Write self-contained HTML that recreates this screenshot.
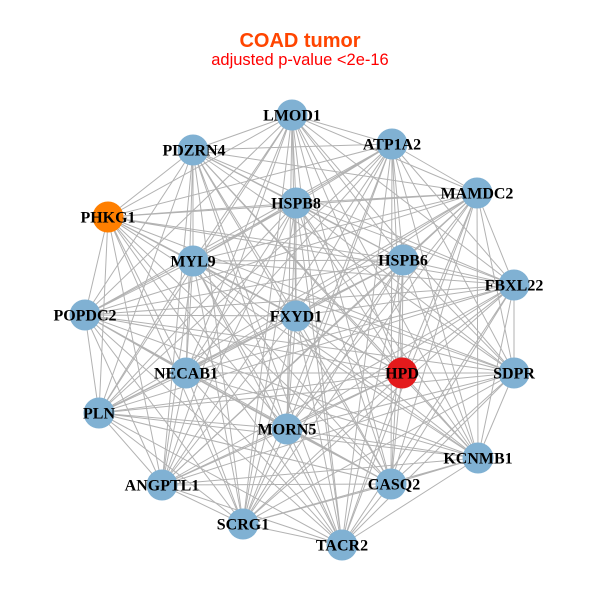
<!DOCTYPE html>
<html>
<head>
<meta charset="utf-8">
<style>
html,body{margin:0;padding:0;background:#fff;}
svg{display:block;}
.lbl{font-family:"Liberation Serif",serif;font-weight:bold;font-size:16px;fill:#000;text-anchor:middle;}
</style>
</head>
<body>
<svg width="600" height="600" viewBox="0 0 600 600" xmlns="http://www.w3.org/2000/svg">
<rect width="600" height="600" fill="#fff"/>
<text x="300" y="47" text-anchor="middle" font-family="Liberation Sans, sans-serif" font-weight="bold" font-size="20" fill="#FF4500">COAD tumor</text>
<text x="300" y="65" text-anchor="middle" font-family="Liberation Sans, sans-serif" font-size="16.5" fill="#FF0000">adjusted p-value &lt;2e-16</text>
<g stroke="#b2b2b2" stroke-width="1" fill="none">
<path d="M292 115L392 144M292 115L193 150M292 115L477 193M292 115L296 203M292 115L108 217M292 115L193 261M292 115L403 260M292 115L514 285M292 115L85 315M292 115L296 316M292 115L186 373M292 115L402 373M292 115L514 373M292 115L99 413M292 115L287 429M292 115L478 458M292 115L391 484M292 115L162 485M292 115L243 524M292 115L342 545"/>
<path d="M392 144L193 150M392 144L477 193M392 144L296 203M392 144L108 217M392 144L193 261M392 144L403 260M392 144L514 285M392 144L85 315M392 144L296 316M392 144L186 373M392 144L402 373M392 144L514 373M392 144L99 413M392 144L287 429M392 144L478 458M392 144L391 484M392 144L162 485M392 144L243 524M392 144L342 545"/>
<path d="M193 150L477 193M193 150L296 203M193 150L108 217M193 150L193 261M193 150L403 260M193 150L514 285M193 150L85 315M193 150L296 316M193 150L186 373M193 150L402 373M193 150L514 373M193 150L99 413M193 150L287 429M193 150L478 458M193 150L391 484M193 150L162 485M193 150L243 524M193 150L342 545"/>
<path d="M477 193L296 203M477 193L108 217M477 193L193 261M477 193L403 260M477 193L514 285M477 193L85 315M477 193L296 316M477 193L186 373M477 193L402 373M477 193L514 373M477 193L99 413M477 193L287 429M477 193L478 458M477 193L391 484M477 193L162 485M477 193L243 524M477 193L342 545"/>
<path d="M296 203L108 217M296 203L193 261M296 203L403 260M296 203L514 285M296 203L85 315M296 203L296 316M296 203L186 373M296 203L402 373M296 203L514 373M296 203L99 413M296 203L287 429M296 203L478 458M296 203L391 484M296 203L162 485M296 203L243 524M296 203L342 545"/>
<path d="M108 217L193 261M108 217L403 260M108 217L514 285M108 217L85 315M108 217L296 316M108 217L186 373M108 217L402 373M108 217L514 373M108 217L99 413M108 217L287 429M108 217L478 458M108 217L391 484M108 217L162 485M108 217L243 524M108 217L342 545"/>
<path d="M193 261L403 260M193 261L514 285M193 261L85 315M193 261L296 316M193 261L186 373M193 261L402 373M193 261L514 373M193 261L99 413M193 261L287 429M193 261L478 458M193 261L391 484M193 261L162 485M193 261L243 524M193 261L342 545"/>
<path d="M403 260L514 285M403 260L85 315M403 260L296 316M403 260L186 373M403 260L402 373M403 260L514 373M403 260L99 413M403 260L287 429M403 260L478 458M403 260L391 484M403 260L162 485M403 260L243 524M403 260L342 545"/>
<path d="M514 285L85 315M514 285L296 316M514 285L186 373M514 285L402 373M514 285L514 373M514 285L99 413M514 285L287 429M514 285L478 458M514 285L391 484M514 285L162 485M514 285L243 524M514 285L342 545"/>
<path d="M85 315L296 316M85 315L186 373M85 315L402 373M85 315L514 373M85 315L99 413M85 315L287 429M85 315L478 458M85 315L391 484M85 315L162 485M85 315L243 524M85 315L342 545"/>
<path d="M296 316L186 373M296 316L402 373M296 316L514 373M296 316L99 413M296 316L287 429M296 316L478 458M296 316L391 484M296 316L162 485M296 316L243 524M296 316L342 545"/>
<path d="M186 373L402 373M186 373L514 373M186 373L99 413M186 373L287 429M186 373L478 458M186 373L391 484M186 373L162 485M186 373L243 524M186 373L342 545"/>
<path d="M402 373L514 373M402 373L99 413M402 373L287 429M402 373L478 458M402 373L391 484M402 373L162 485M402 373L243 524M402 373L342 545"/>
<path d="M514 373L99 413M514 373L287 429M514 373L478 458M514 373L391 484M514 373L162 485M514 373L243 524M514 373L342 545"/>
<path d="M99 413L287 429M99 413L478 458M99 413L391 484M99 413L162 485M99 413L243 524M99 413L342 545"/>
<path d="M287 429L478 458M287 429L391 484M287 429L162 485M287 429L243 524M287 429L342 545"/>
<path d="M478 458L391 484M478 458L162 485M478 458L243 524M478 458L342 545"/>
<path d="M391 484L162 485M391 484L243 524M391 484L342 545"/>
<path d="M162 485L243 524M162 485L342 545"/>
<path d="M243 524L342 545"/>
</g>
<g>
<circle cx="292" cy="115" r="15.5" fill="#80B1D3"/>
<circle cx="392" cy="144" r="15.5" fill="#80B1D3"/>
<circle cx="193" cy="150" r="15.5" fill="#80B1D3"/>
<circle cx="477" cy="193" r="15.5" fill="#80B1D3"/>
<circle cx="296" cy="203" r="15.5" fill="#80B1D3"/>
<circle cx="108" cy="217" r="15.5" fill="#FF7F00"/>
<circle cx="193" cy="261" r="15.5" fill="#80B1D3"/>
<circle cx="403" cy="260" r="15.5" fill="#80B1D3"/>
<circle cx="514" cy="285" r="15.5" fill="#80B1D3"/>
<circle cx="85" cy="315" r="15.5" fill="#80B1D3"/>
<circle cx="296" cy="316" r="15.5" fill="#80B1D3"/>
<circle cx="186" cy="373" r="15.5" fill="#80B1D3"/>
<circle cx="402" cy="373" r="15.5" fill="#E41A1C"/>
<circle cx="514" cy="373" r="15.5" fill="#80B1D3"/>
<circle cx="99" cy="413" r="15.5" fill="#80B1D3"/>
<circle cx="287" cy="429" r="15.5" fill="#80B1D3"/>
<circle cx="478" cy="458" r="15.5" fill="#80B1D3"/>
<circle cx="391" cy="484" r="15.5" fill="#80B1D3"/>
<circle cx="162" cy="485" r="15.5" fill="#80B1D3"/>
<circle cx="243" cy="524" r="15.5" fill="#80B1D3"/>
<circle cx="342" cy="545" r="15.5" fill="#80B1D3"/>
</g>
<g class="lbl">
<text class="lbl" x="292" y="120.5">LMOD1</text>
<text class="lbl" x="392" y="149.5">ATP1A2</text>
<text class="lbl" x="194" y="155.5">PDZRN4</text>
<text class="lbl" x="477" y="198.5">MAMDC2</text>
<text class="lbl" x="296" y="208.5">HSPB8</text>
<text class="lbl" x="108" y="222.5">PHKG1</text>
<text class="lbl" x="193" y="266.5">MYL9</text>
<text class="lbl" x="403" y="265.5">HSPB6</text>
<text class="lbl" x="514" y="290.5">FBXL22</text>
<text class="lbl" x="85" y="320.5">POPDC2</text>
<text class="lbl" x="296" y="321.5">FXYD1</text>
<text class="lbl" x="186" y="378.5">NECAB1</text>
<text class="lbl" x="402" y="378.5">HPD</text>
<text class="lbl" x="514" y="378.5">SDPR</text>
<text class="lbl" x="99" y="418.5">PLN</text>
<text class="lbl" x="287" y="434.5">MORN5</text>
<text class="lbl" x="478" y="463.5">KCNMB1</text>
<text class="lbl" x="394" y="489.5">CASQ2</text>
<text class="lbl" x="162" y="490.5">ANGPTL1</text>
<text class="lbl" x="243" y="529.5">SCRG1</text>
<text class="lbl" x="342" y="550.5">TACR2</text>
</g>
</svg>
</body>
</html>
